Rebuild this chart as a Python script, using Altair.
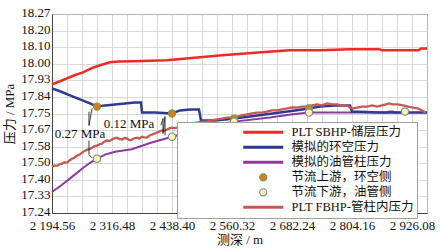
import altair as alt
import pandas as pd

FONT = "Liberation Serif, Noto Sans CJK SC"

series_names = ["PLT SBHP-储层压力", "模拟的环空压力", "模拟的油管柱压力",
                "节流上游，环空侧", "节流下游，油管侧", "PLT FBHP-管柱内压力"]
# line colours, and outline colours for the two point series
series_strokes = ["#ee2a24", "#2d3a8f", "#8c3aa0", "#6aa040", "#7d88aa", "#c65a50"]
point_fills = ["#e2781e", "#fbf4a8"]

x_tick_labels = ["2 194.56", "2 316.48", "2 438.40", "2 560.32", "2 682.24", "2 804.16", "2 926.08"]
y_tick_labels = ["17.24", "17.33", "17.40", "17.50", "17.58", "17.67", "17.75",
                 "17.84", "17.93", "18.00", "18.10", "18.20", "18.27"]

# PLT SBHP
sbhp_depth = [2194.56, 2210.8, 2225.0, 2240.0, 2257.6, 2275.0, 2292.1, 2312.4, 2330.0, 2359.2,
              2428.2, 2495.3, 2540.0, 2607.0, 2676.0, 2740.0, 2800.0, 2859.0, 2865.0, 2940.0,
              2944.0, 2956.56]
sbhp_p = [17.906, 17.922, 17.937, 17.953, 17.968, 17.990, 18.005, 18.020, 18.024, 18.026,
          18.031, 18.046, 18.057, 18.069, 18.083, 18.083, 18.088, 18.088, 18.083, 18.083,
          18.091, 18.091]

# simulated annulus pressure
ann_depth = [2194.56, 2210.8, 2231.1, 2251.5, 2271.8, 2286.0, 2302.3, 2322.6, 2342.9, 2363.2,
             2375.4, 2377.4, 2403.9, 2438.4, 2454.7, 2475.0, 2493.3, 2497.3, 2525.8, 2546.1,
             2564.4, 2596.9, 2627.4, 2657.9, 2688.3, 2716.8, 2739.1, 2769.6, 2800.1, 2804.2,
             2861.1, 2911.9, 2956.56]
ann_p = [17.885, 17.870, 17.849, 17.828, 17.807, 17.791, 17.797, 17.802, 17.807, 17.812,
         17.812, 17.760, 17.760, 17.755, 17.771, 17.776, 17.776, 17.719, 17.719, 17.724,
         17.729, 17.739, 17.750, 17.760, 17.771, 17.781, 17.791, 17.797, 17.797, 17.765,
         17.760, 17.760, 17.760]

# simulated tubing pressure
tub_depth = [2194.56, 2214.9, 2235.2, 2255.5, 2271.8, 2286.0, 2302.3, 2322.6, 2357.0, 2393.7,
             2438.4, 2470.0, 2499.4, 2564.4, 2637.5, 2680.0, 2716.8, 2800.1, 2875.3, 2879.3,
             2887.5, 2891.5, 2922.0]
tub_p = [17.349, 17.386, 17.427, 17.469, 17.500, 17.521, 17.542, 17.557, 17.570, 17.602,
         17.635, 17.657, 17.682, 17.713, 17.734, 17.750, 17.760, 17.760, 17.760, 17.765,
         17.765, 17.760, 17.760]

# PLT FBHP (measured, noisy)
fbhp_depth = [2194.56, 2199.0, 2204.7, 2209.5, 2214.9, 2220.0, 2225.0, 2230.0, 2235.2, 2240.0,
              2245.4, 2250.0, 2255.5, 2260.0, 2265.7, 2271.0, 2275.8, 2281.0, 2286.0, 2291.0,
              2296.2, 2301.0, 2306.3, 2311.0, 2316.5, 2321.0, 2326.6, 2331.0, 2336.8, 2342.0,
              2347.0, 2352.0, 2357.1, 2362.0, 2367.3, 2372.0, 2377.4, 2382.0, 2387.6, 2392.0,
              2397.8, 2402.0, 2407.9, 2413.0, 2418.1, 2423.0, 2428.2, 2433.0, 2438.4, 2443.0,
              2448.6, 2458.7, 2468.9, 2479.0, 2489.2, 2499.4, 2509.5, 2519.7, 2529.8, 2540.0,
              2550.2, 2560.3, 2570.5, 2580.6, 2590.8, 2601.0, 2611.1, 2621.3, 2631.4, 2641.6,
              2651.8, 2661.9, 2672.1, 2682.2, 2692.4, 2702.6, 2712.7, 2722.9, 2733.0, 2743.2,
              2753.4, 2763.5, 2773.7, 2783.8, 2794.0, 2800.1, 2806.2, 2814.3, 2824.5, 2834.6,
              2844.8, 2855.0, 2865.1, 2873.3, 2879.3, 2887.5, 2897.6, 2907.8, 2918.0, 2928.1,
              2938.3, 2946.4, 2954.5]
fbhp_p = [17.479, 17.486, 17.484, 17.492, 17.495, 17.503, 17.500, 17.512, 17.521, 17.526,
          17.537, 17.541, 17.552, 17.560, 17.568, 17.571, 17.578, 17.586, 17.589, 17.596,
          17.599, 17.610, 17.615, 17.612, 17.620, 17.626, 17.630, 17.624, 17.620, 17.628,
          17.625, 17.617, 17.620, 17.627, 17.630, 17.625, 17.635, 17.631, 17.630, 17.640,
          17.646, 17.650, 17.656, 17.662, 17.667, 17.665, 17.672, 17.678, 17.682, 17.679,
          17.682, 17.693, 17.698, 17.703, 17.708, 17.713, 17.713, 17.719, 17.724, 17.729,
          17.734, 17.734, 17.739, 17.745, 17.750, 17.755, 17.760, 17.760, 17.765, 17.771,
          17.771, 17.776, 17.781, 17.786, 17.786, 17.791, 17.791, 17.797, 17.802, 17.797,
          17.807, 17.802, 17.802, 17.797, 17.797, 17.786, 17.781, 17.786, 17.791, 17.791,
          17.797, 17.791, 17.797, 17.802, 17.807, 17.802, 17.802, 17.797, 17.791, 17.786,
          17.781, 17.771, 17.760]

# choke points
up_depth = [2286.0, 2438.4, 2564.4, 2716.8]
up_p = [17.791, 17.755, 17.729, 17.781]
down_depth = [2286.0, 2438.4, 2564.4, 2716.8, 2911.9]
down_p = [17.521, 17.635, 17.713, 17.760, 17.765]

# annotations
note_text = ["0.27 MPa", "0.12 MPa"]
note_depth = [2251.5, 2351.0]
note_p = [17.651, 17.703]

brace_seg = ["a", "a", "a", "b", "b", "b", "c", "c", "c", "c", "c", "c", "c"]
brace_depth = [2275.8, 2269.7, 2269.7, 2269.7, 2269.7, 2275.8,
               2424.2, 2420.1, 2420.1, 2416.1, 2420.1, 2420.1, 2424.2]
brace_p = [17.781, 17.765, 17.693, 17.615, 17.542, 17.526,
           17.739, 17.729, 17.703, 17.693, 17.682, 17.651, 17.641]

X0, X1 = 2194.56, 2956.56
Y0, Y1 = 17.24, 18.27

def frame(name, d, p):
    return pd.DataFrame({"series": name, "depth": d, "p": p})

df_sbhp = frame(series_names[0], sbhp_depth, sbhp_p)
df_ann = frame(series_names[1], ann_depth, ann_p)
df_tub = frame(series_names[2], tub_depth, tub_p)
df_up = frame(series_names[3], up_depth, up_p)
df_down = frame(series_names[4], down_depth, down_p)
df_fbhp = frame(series_names[5], fbhp_depth, fbhp_p)
df_note = pd.DataFrame({"t": note_text, "depth": note_depth, "p": note_p})
df_brace = pd.DataFrame({"seg": brace_seg, "depth": brace_depth, "p": brace_p})

# axis ticks
x_vals = [round(X0 + 30.48 * i, 2) for i in range(26)]
x_lab_all = []
for i in range(26):
    x_lab_all.append(x_tick_labels[i // 4] if i % 4 == 0 and i // 4 < len(x_tick_labels) else "")
x_expr = "[" + ",".join("'%s'" % s for s in x_lab_all) + "][round((datum.value - %s) / 30.48)]" % X0
ystep = (Y1 - Y0) / 12
y_vals = [round(Y0 + ystep * k, 5) for k in range(13)]
y_expr = "[" + ",".join("'%s'" % s for s in y_tick_labels) + "][round((datum.value - %s) / %s)]" % (Y0, ystep)

U, D = series_names[3], series_names[4]
is_pt = "(datum.value === '%s' || datum.value === '%s')" % (U, D)

legend = alt.Legend(
    orient="none", legendX=125, legendY=108, direction="vertical", title=None,
    symbolType=alt.ExprRef(expr="%s ? 'circle' : 'stroke'" % is_pt),
    symbolSize=alt.ExprRef(expr="%s ? 50 : 1600" % is_pt),
    symbolStrokeWidth=alt.ExprRef(expr="%s ? 1.2 : 3" % is_pt),
    symbolFillColor=alt.ExprRef(
        expr="datum.value === '%s' ? '%s' : (datum.value === '%s' ? '%s' : 'transparent')"
        % (U, point_fills[0], D, point_fills[1])),
    symbolOpacity=1,
    clipHeight=14.6, rowPadding=0, padding=3,
    fillColor="white", strokeColor="#a0a0a0",
    labelFont=FONT, labelFontSize=12.5, labelColor="#111", labelLimit=300,
    symbolOffset=77, labelOffset=22,
)

color = alt.Color("series:N", legend=legend,
                  scale=alt.Scale(domain=series_names, range=series_strokes))
x = alt.X("depth:Q", scale=alt.Scale(domain=[X0, X1], nice=False, zero=False),
          axis=alt.Axis(values=x_vals, tickCount=60, labelExpr=x_expr, title="测深 / m", grid=True,
                        ticks=False, labelOverlap=False, labelBound=False, labelFlush=False,
                        labelPadding=6,
                        labelFont=FONT, labelFontSize=13, labelColor="#111",
                        titleFont=FONT, titleFontSize=13, titleFontWeight="normal",
                        titleColor="#111", titlePadding=1,
                        gridColor="#cfcfcf", gridWidth=0.8, domainColor="#444"))
y = alt.Y("p:Q", scale=alt.Scale(domain=[Y0, Y1], nice=False, zero=False),
          axis=alt.Axis(values=y_vals, tickCount=60, labelExpr=y_expr, title="压力 / MPa", grid=True,
                        ticks=False, labelOverlap=False, labelBound=False, labelFlush=False,
                        labelPadding=2, labelOffset=-1.5,
                        labelFont=FONT, labelFontSize=13, labelColor="#111",
                        titleFont=FONT, titleFontSize=13, titleFontWeight="normal",
                        titleColor="#111", titlePadding=4,
                        gridColor="#cfcfcf", gridWidth=0.8, domainColor="#444"))

tub = alt.Chart(df_tub).mark_line(strokeWidth=2).encode(x=x, y=y, color=color)
ann = alt.Chart(df_ann).mark_line(strokeWidth=2.5).encode(x=x, y=y, color=color)
fbhp = alt.Chart(df_fbhp).mark_line(strokeWidth=2.3).encode(x=x, y=y, color=color)
sbhp = alt.Chart(df_sbhp).mark_line(strokeWidth=2.5).encode(x=x, y=y, color=color)
up = alt.Chart(df_up).mark_point(filled=True, size=50, fill=point_fills[0],
                                 stroke=series_strokes[3], strokeWidth=1.2, opacity=1).encode(x=x, y=y)
down = alt.Chart(df_down).mark_point(filled=True, size=55, fill=point_fills[1],
                                     stroke=series_strokes[4], strokeWidth=1.2, opacity=1).encode(x=x, y=y)
brace = alt.Chart(df_brace).mark_line(strokeWidth=0.9, color="#222").encode(
    x="depth:Q", y="p:Q", detail="seg:N")
notes = alt.Chart(df_note).mark_text(font=FONT, fontSize=13, color="#111").encode(
    x="depth:Q", y="p:Q", text="t:N")

chart = alt.layer(tub, ann, fbhp, sbhp, brace, notes, up, down).properties(
    width=375, height=199,
    padding={"left": 52, "top": 14, "right": 17, "bottom": 35},
    autosize=alt.AutoSizeParams(type="none"),
    background="white",
).configure_view(stroke="#555", strokeWidth=1)

chart.save("out.html", embed_options={"renderer": "svg", "actions": False})
